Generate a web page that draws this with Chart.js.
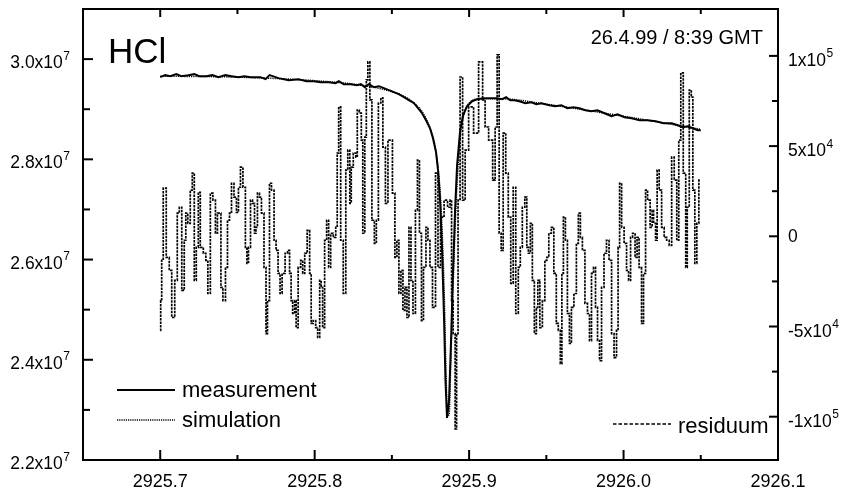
<!DOCTYPE html>
<html>
<head>
<meta charset="utf-8">
<script src="https://cdn.jsdelivr.net/npm/chart.js@4.4.0/dist/chart.umd.min.js"></script>
<style>
  html, body { margin: 0; padding: 0; background: #fff; }
  canvas { display: block; }
</style>
</head>
<body>
<canvas id="hclChart" width="852" height="491"></canvas>
<script>
// measured spectrum (left axis)
const measX = [
  2925.7000, 2925.7032, 2925.7065, 2925.7104, 2925.7136, 2925.7182, 2925.7221, 2925.7253, 2925.7299, 2925.7338,
  2925.7377, 2925.7422, 2925.7461, 2925.7506, 2925.7545, 2925.7584, 2925.7649, 2925.7682, 2925.7708, 2925.7766,
  2925.7831, 2925.7896, 2925.7948, 2925.7994, 2925.8039, 2925.8091, 2925.8136, 2925.8156, 2925.8188, 2925.8234,
  2925.8273, 2925.8299, 2925.8325, 2925.8351, 2925.8383, 2925.8416, 2925.8448, 2925.8481, 2925.8513, 2925.8545,
  2925.8578, 2925.8610, 2925.8643, 2925.8669, 2925.8695, 2925.8721, 2925.8747, 2925.8766, 2925.8786, 2925.8799,
  2925.8812, 2925.8825, 2925.8838, 2925.8847, 2925.8857, 2925.8870, 2925.8883, 2925.8896, 2925.8909, 2925.8922,
  2925.8942, 2925.8961, 2925.8987, 2925.9019, 2925.9052, 2925.9097, 2925.9143, 2925.9182, 2925.9214, 2925.9240,
  2925.9266, 2925.9292, 2925.9325, 2925.9364, 2925.9403, 2925.9435, 2925.9468, 2925.9519, 2925.9558, 2925.9597,
  2925.9636, 2925.9675, 2925.9714, 2925.9753, 2925.9792, 2925.9831, 2925.9877, 2925.9922, 2925.9961, 2926.0006,
  2926.0052, 2926.0104, 2926.0156, 2926.0208, 2926.0260, 2926.0312, 2926.0351, 2926.0383, 2926.0416, 2926.0448,
  2926.0481, 2926.0500
];
const measY = [
  2.964e7, 2.968e7, 2.966e7, 2.970e7, 2.966e7, 2.968e7, 2.970e7, 2.966e7, 2.966e7, 2.968e7,
  2.964e7, 2.968e7, 2.966e7, 2.964e7, 2.966e7, 2.964e7, 2.964e7, 2.960e7, 2.968e7, 2.962e7,
  2.958e7, 2.960e7, 2.956e7, 2.956e7, 2.954e7, 2.954e7, 2.952e7, 2.956e7, 2.950e7, 2.950e7,
  2.948e7, 2.950e7, 2.944e7, 2.950e7, 2.944e7, 2.946e7, 2.942e7, 2.938e7, 2.934e7, 2.930e7,
  2.924e7, 2.918e7, 2.912e7, 2.902e7, 2.892e7, 2.878e7, 2.862e7, 2.842e7, 2.814e7, 2.778e7,
  2.718e7, 2.618e7, 2.478e7, 2.358e7, 2.284e7, 2.318e7, 2.438e7, 2.578e7, 2.698e7, 2.788e7,
  2.858e7, 2.888e7, 2.906e7, 2.916e7, 2.920e7, 2.922e7, 2.922e7, 2.922e7, 2.920e7, 2.924e7,
  2.918e7, 2.918e7, 2.916e7, 2.912e7, 2.914e7, 2.910e7, 2.912e7, 2.908e7, 2.906e7, 2.908e7,
  2.902e7, 2.904e7, 2.902e7, 2.898e7, 2.896e7, 2.898e7, 2.892e7, 2.886e7, 2.890e7, 2.884e7,
  2.882e7, 2.878e7, 2.878e7, 2.876e7, 2.872e7, 2.872e7, 2.868e7, 2.864e7, 2.866e7, 2.862e7,
  2.858e7, 2.858e7
];

// simulated spectrum (left axis)
const simX = [
  2925.700, 2925.750, 2925.800, 2925.830, 2925.850, 2925.860, 2925.866, 2925.870, 2925.874, 2925.877,
  2925.879, 2925.881, 2925.8825, 2925.884, 2925.885, 2925.886, 2925.887, 2925.888, 2925.889, 2925.890,
  2925.891, 2925.892, 2925.894, 2925.897, 2925.900, 2925.905, 2925.920, 2925.950, 2926.000, 2926.050
];
const simY = [
  2.966e7, 2.964e7, 2.957e7, 2.948e7, 2.935e7, 2.922e7, 2.908e7, 2.893e7, 2.868e7, 2.840e7,
  2.805e7, 2.745e7, 2.660e7, 2.520e7, 2.380e7, 2.290e7, 2.290e7, 2.380e7, 2.480e7, 2.580e7,
  2.670e7, 2.740e7, 2.838e7, 2.895e7, 2.912e7, 2.920e7, 2.921e7, 2.910e7, 2.886e7, 2.860e7
];

// residuum (right axis)
const resX = [
  2925.7000, 2925.7006, 2925.7013, 2925.7026, 2925.7052, 2925.7065, 2925.7084, 2925.7104, 2925.7117, 2925.7130,
  2925.7149, 2925.7162, 2925.7169, 2925.7188, 2925.7201, 2925.7214, 2925.7227, 2925.7240, 2925.7253, 2925.7266,
  2925.7292, 2925.7299, 2925.7318, 2925.7331, 2925.7351, 2925.7364, 2925.7377, 2925.7390, 2925.7396, 2925.7416,
  2925.7429, 2925.7442, 2925.7455, 2925.7468, 2925.7487, 2925.7500, 2925.7513, 2925.7526, 2925.7545, 2925.7558,
  2925.7565, 2925.7578, 2925.7591, 2925.7604, 2925.7617, 2925.7623, 2925.7636, 2925.7649, 2925.7662, 2925.7682,
  2925.7688, 2925.7701, 2925.7714, 2925.7727, 2925.7747, 2925.7753, 2925.7773, 2925.7779, 2925.7799, 2925.7818,
  2925.7831, 2925.7844, 2925.7851, 2925.7864, 2925.7877, 2925.7883, 2925.7903, 2925.7916, 2925.7929, 2925.7942,
  2925.7961, 2925.7974, 2925.7981, 2925.8000, 2925.8013, 2925.8026, 2925.8039, 2925.8045, 2925.8058, 2925.8071,
  2925.8084, 2925.8097, 2925.8110, 2925.8130, 2925.8143, 2925.8149, 2925.8162, 2925.8175, 2925.8195, 2925.8208,
  2925.8221, 2925.8234, 2925.8240, 2925.8260, 2925.8273, 2925.8279, 2925.8299, 2925.8305, 2925.8318, 2925.8331,
  2925.8338, 2925.8351, 2925.8364, 2925.8377, 2925.8396, 2925.8403, 2925.8422, 2925.8435, 2925.8448, 2925.8468,
  2925.8481, 2925.8494, 2925.8513, 2925.8526, 2925.8539, 2925.8552, 2925.8565, 2925.8578, 2925.8591, 2925.8604,
  2925.8617, 2925.8630, 2925.8643, 2925.8662, 2925.8669, 2925.8688, 2925.8695, 2925.8714, 2925.8727, 2925.8740,
  2925.8753, 2925.8773, 2925.8792, 2925.8805, 2925.8825, 2925.8851, 2925.8870, 2925.8883, 2925.8890, 2925.8903,
  2925.8916, 2925.8922, 2925.8935, 2925.8948, 2925.8968, 2925.8981, 2925.9013, 2925.9045, 2925.9078, 2925.9097,
  2925.9110, 2925.9143, 2925.9162, 2925.9175, 2925.9188, 2925.9201, 2925.9214, 2925.9227, 2925.9247, 2925.9260,
  2925.9279, 2925.9292, 2925.9312, 2925.9325, 2925.9338, 2925.9351, 2925.9370, 2925.9377, 2925.9390, 2925.9403,
  2925.9416, 2925.9429, 2925.9442, 2925.9448, 2925.9468, 2925.9481, 2925.9500, 2925.9506, 2925.9526, 2925.9539,
  2925.9558, 2925.9571, 2925.9584, 2925.9597, 2925.9604, 2925.9617, 2925.9630, 2925.9643, 2925.9656, 2925.9669,
  2925.9688, 2925.9701, 2925.9714, 2925.9727, 2925.9740, 2925.9760, 2925.9773, 2925.9786, 2925.9799, 2925.9812,
  2925.9825, 2925.9838, 2925.9851, 2925.9864, 2925.9883, 2925.9896, 2925.9916, 2925.9929, 2925.9948, 2925.9961,
  2925.9968, 2925.9981, 2925.9994, 2926.0013, 2926.0026, 2926.0039, 2926.0052, 2926.0065, 2926.0084, 2926.0091,
  2926.0110, 2926.0123, 2926.0136, 2926.0149, 2926.0162, 2926.0182, 2926.0188, 2926.0201, 2926.0214, 2926.0221,
  2926.0240, 2926.0253, 2926.0273, 2926.0286, 2926.0305, 2926.0318, 2926.0338, 2926.0351, 2926.0364, 2926.0377,
  2926.0396, 2926.0409, 2926.0416, 2926.0435, 2926.0442, 2926.0455, 2926.0468, 2926.0481, 2926.0494
];
const resY = [
  -52200, -35600, -13300, 26700, -11700, -18900, -45000, -24400, 12800, 16100,
  -30000, -2200, 12800, 7200, 25600, 35000, -24400, -6100, 24400, -6100,
  -9400, -13300, -31700, 23900, 20000, 1700, 12800, 12800, -28300, -35600,
  -17200, 8900, 12800, 29400, 21700, 13300, 27200, 38300, 27200, -6100,
  -15000, -6100, 20000, 18300, 1700, 5000, 23900, 21700, 12800, -17200,
  -53900, -35600, 29400, 25600, -2200, -7800, -20600, -31700, -20600, -9400,
  -7800, -20600, -35600, -42800, -35600, -50600, -17200, -13300, -20600, -9400,
  3300, -20600, -48300, -46700, -50600, -56100, -24400, -28300, -50600, -2200,
  8900, -17200, 1700, -600, 5000, 46100, 71700, -2200, -31700, 36700,
  47800, 18300, 38300, 46100, 43900, 70000, 68300, 53300, 1700, 55000,
  86700, 96700, 75600, 8900, -3900, 8900, 73900, 76700, 49400, 18300,
  53300, 53300, 23900, -11700, -2200, -31700, -18900, -41100, -28300, -45000,
  5000, -24400, -42800, 14400, 42200, 1700, -46700, -17200, 5000, -2200,
  -17200, -39400, 35000, -17200, 10600, 20000, 16100, 20000, -35600, -53900,
  -106700, -53900, 20000, 88300, 20000, 47800, 71700, 57200, 96700, 75600,
  60600, 53300, 31100, 60600, 100600, 1700, -7800, 57200, 35000, 10600,
  -26100, 27200, -42800, -17200, -6100, 16100, 21700, -6100, -9400, 7200,
  -24400, -53900, -39400, -24400, -50600, -35600, -13300, -11700, 1700, 5000,
  -20600, -48300, -52200, -70600, -20600, 10600, -2200, -42800, -59400, -39400,
  -31700, -3900, 12800, -600, -7800, -37200, -42800, -57800, -20600, -17200,
  -39400, -57800, -68900, -28300, -9400, -2200, -13300, -53900, -67200, -52200,
  -6100, 29400, 5000, -3900, -18900, -24400, -600, 1700, -11700, -600,
  -17200, -48300, -20600, 25600, 20000, 5000, 14400, 7200, -2200, 36700,
  25600, 5000, -600, -2200, -5000, 43900, 31100, -2200, 53300, 90600,
  35000, -17200, 16100, 81100, 77200, 25600, -15000, 7200, 31100
];

// axis ticks
const xMajorTicks = [2925.7, 2925.8, 2925.9, 2926.0, 2926.1];
const xMinorTicks = [2925.75, 2925.85, 2925.95, 2926.05];
const xTickLabels = ['2925.7', '2925.8', '2925.9', '2926.0', '2926.1'];
const leftMajorTicks = [2.2e7, 2.4e7, 2.6e7, 2.8e7, 3.0e7];
const leftMinorTicks = [2.3e7, 2.5e7, 2.7e7, 2.9e7];
const leftTickLabels = ['2.2x10^7', '2.4x10^7', '2.6x10^7', '2.8x10^7', '3.0x10^7'];
const rightMajorTicks = [-1e5, -5e4, 0, 5e4, 1e5];
const rightMinorTicks = [-7.5e4, -2.5e4, 2.5e4, 7.5e4];
const rightTickLabels = ['-1x10^5', '-5x10^4', '0', '5x10^4', '1x10^5'];

const seriesNames = ['measurement', 'simulation', 'residuum'];
const gasName = 'HCl';
const dateText = '26.4.99 / 8:39 GMT';

const FONT = '"Liberation Sans", Arial, Helvetica, sans-serif';

function toPoints(xs, ys) {
    return xs.map((x, i) => ({ x: x, y: ys[i] }));
}

// draws "mantissa^exp" labels with a raised exponent
function drawSupLabel(ctx, text, x, y, align) {
    const parts = text.split('^');
    ctx.font = '17.5px ' + FONT;
    const baseW = ctx.measureText(parts[0]).width;
    ctx.font = '12px ' + FONT;
    const expW = parts[1] ? ctx.measureText(parts[1]).width + 0.5 : 0;
    const left = align === 'right' ? x - baseW - expW : x;
    ctx.textAlign = 'left';
    ctx.textBaseline = 'alphabetic';
    ctx.font = '17.5px ' + FONT;
    ctx.fillText(parts[0], left, y);
    if (parts[1]) {
        ctx.font = '12px ' + FONT;
        ctx.fillText(parts[1], left + baseW + 0.5, y - 8.5);
    }
}

const framePlugin = {
    id: 'framePlugin',
    afterDraw(chart) {
        const ctx = chart.ctx;
        const a = chart.chartArea;
        const sx = chart.scales.x, sl = chart.scales.y, sr = chart.scales.y2;
        ctx.save();
        ctx.strokeStyle = '#000';
        ctx.fillStyle = '#000';
        ctx.lineWidth = 2;
        ctx.setLineDash([]);
        ctx.strokeRect(a.left, a.top, a.right - a.left, a.bottom - a.top);

        const seg = (x1, y1, x2, y2) => {
            ctx.beginPath(); ctx.moveTo(x1, y1); ctx.lineTo(x2, y2); ctx.stroke();
        };
        // inward ticks
        xMajorTicks.forEach(v => {
            const p = sx.getPixelForValue(v);
            seg(p, a.bottom, p, a.bottom - 10);
            seg(p, a.top, p, a.top + 8);
        });
        xMinorTicks.forEach(v => {
            const p = sx.getPixelForValue(v);
            seg(p, a.bottom, p, a.bottom - 5);
            seg(p, a.top, p, a.top + 5);
        });
        leftMajorTicks.forEach(v => {
            const p = sl.getPixelForValue(v);
            seg(a.left, p, a.left + 10, p);
        });
        leftMinorTicks.forEach(v => {
            const p = sl.getPixelForValue(v);
            seg(a.left, p, a.left + 7, p);
        });
        rightMajorTicks.forEach(v => {
            const p = sr.getPixelForValue(v);
            seg(a.right, p, a.right - 9, p);
        });
        rightMinorTicks.forEach(v => {
            const p = sr.getPixelForValue(v);
            seg(a.right, p, a.right - 6, p);
        });

        // tick labels
        ctx.font = '18px ' + FONT;
        ctx.textAlign = 'center';
        ctx.textBaseline = 'alphabetic';
        xMajorTicks.forEach((v, i) => {
            ctx.fillText(xTickLabels[i], sx.getPixelForValue(v), a.bottom + 27);
        });
        leftMajorTicks.forEach((v, i) => {
            drawSupLabel(ctx, leftTickLabels[i], a.left - 13, sl.getPixelForValue(v) + 9, 'right');
        });
        rightMajorTicks.forEach((v, i) => {
            const lab = rightTickLabels[i];
            const p = sr.getPixelForValue(v);
            drawSupLabel(ctx, lab, a.right + 10, p + (lab.indexOf('^') < 0 ? 6 : 10), 'left');
        });

        // annotations
        ctx.textAlign = 'left';
        ctx.font = '35px ' + FONT;
        ctx.fillText(gasName, a.left + 25, 63);
        ctx.textAlign = 'right';
        ctx.font = '20px ' + FONT;
        ctx.fillText(dateText, a.right - 15, 44);

        // legend
        ctx.textAlign = 'left';
        ctx.font = '22px ' + FONT;
        ctx.lineWidth = 2;
        seg(117, 390, 175, 390);
        ctx.fillText(seriesNames[0], 182, 397);
        ctx.lineWidth = 1.5;
        ctx.setLineDash([1.2, 1]);
        seg(117, 420, 175, 420);
        ctx.setLineDash([]);
        ctx.fillText(seriesNames[1], 182, 427);
        ctx.lineWidth = 1.5;
        ctx.setLineDash([3.5, 2]);
        seg(613, 424, 671, 424);
        ctx.setLineDash([]);
        ctx.fillText(seriesNames[2], 678, 433);
        ctx.restore();
    }
};

const chart = new Chart(document.getElementById('hclChart'), {
    type: 'line',
    data: {
        datasets: [
            {
                label: seriesNames[0],
                data: toPoints(measX, measY),
                yAxisID: 'y',
                borderColor: '#000',
                borderWidth: 2,
                pointRadius: 0,
                tension: 0,
                order: 0
            },
            {
                label: seriesNames[1],
                data: toPoints(simX, simY),
                yAxisID: 'y',
                borderColor: '#000',
                borderWidth: 1.5,
                borderDash: [1.2, 1],
                pointRadius: 0,
                cubicInterpolationMode: 'monotone',
                order: 1
            },
            {
                label: seriesNames[2],
                data: toPoints(resX, resY),
                yAxisID: 'y2',
                borderColor: '#000',
                borderWidth: 1.7,
                borderDash: [2.5, 1],
                pointRadius: 0,
                stepped: 'middle',
                order: 2
            }
        ]
    },
    options: {
        responsive: false,
        animation: false,
        layout: { padding: { left: 83, right: 74, top: 9, bottom: 31 } },
        scales: {
            x: { type: 'linear', min: 2925.65, max: 2926.1, display: false },
            y: { type: 'linear', position: 'left', min: 2.2e7, max: 3.1e7, display: false },
            y2: { type: 'linear', position: 'right', min: -1.24e5, max: 1.26e5, display: false }
        },
        plugins: {
            legend: { display: false },
            tooltip: { enabled: false }
        }
    },
    plugins: [framePlugin]
});
</script>
</body>
</html>
